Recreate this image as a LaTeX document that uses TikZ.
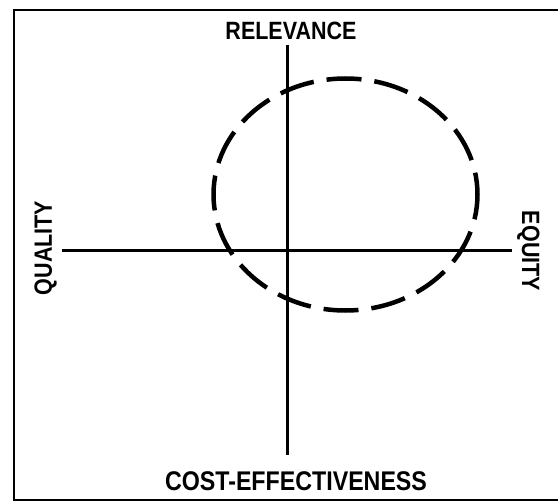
\documentclass[tikz,border=0pt]{standalone}
\usepackage{fontspec}
\newfontfamily\axisfont[FakeStretch=0.86]{Liberation Sans Bold}

\begin{document}
\begin{tikzpicture}[x=1pt, y=-1pt, label/.style={font=\axisfont\fontsize{25}{25}\selectfont, inner sep=0pt, anchor=base}]
  \useasboundingbox (0,0) rectangle (558,503);
  \draw [line width=2.4pt] (558,10) -- (14,10) -- (14,500) -- (558,500);

  \coordinate (top) at (287,45);
  \coordinate (bottom) at (287,455);
  \coordinate (left) at (62,250);
  \coordinate (right) at (512,250);

  \node (rel) [label] at (291,40) {RELEVANCE};
  \node (cost) [label, font=\axisfont\fontsize{27}{27}\selectfont] at (296,490) {COST-EFFECTIVENESS};
  \node (qual) [label, rotate=90] at (52,248) {QUALITY};
  \node (eq) [label, rotate=-90] at (522,251) {EQUITY};

  \draw [line width=3pt] (top) -- (bottom);
  \draw [line width=3pt] (left) -- (right);
  \draw [line width=4.5pt, dash pattern=on 35pt off 13pt, dash phase=10pt] (345.5,194.5) ellipse [x radius=132, y radius=116];
\end{tikzpicture}
\end{document}
